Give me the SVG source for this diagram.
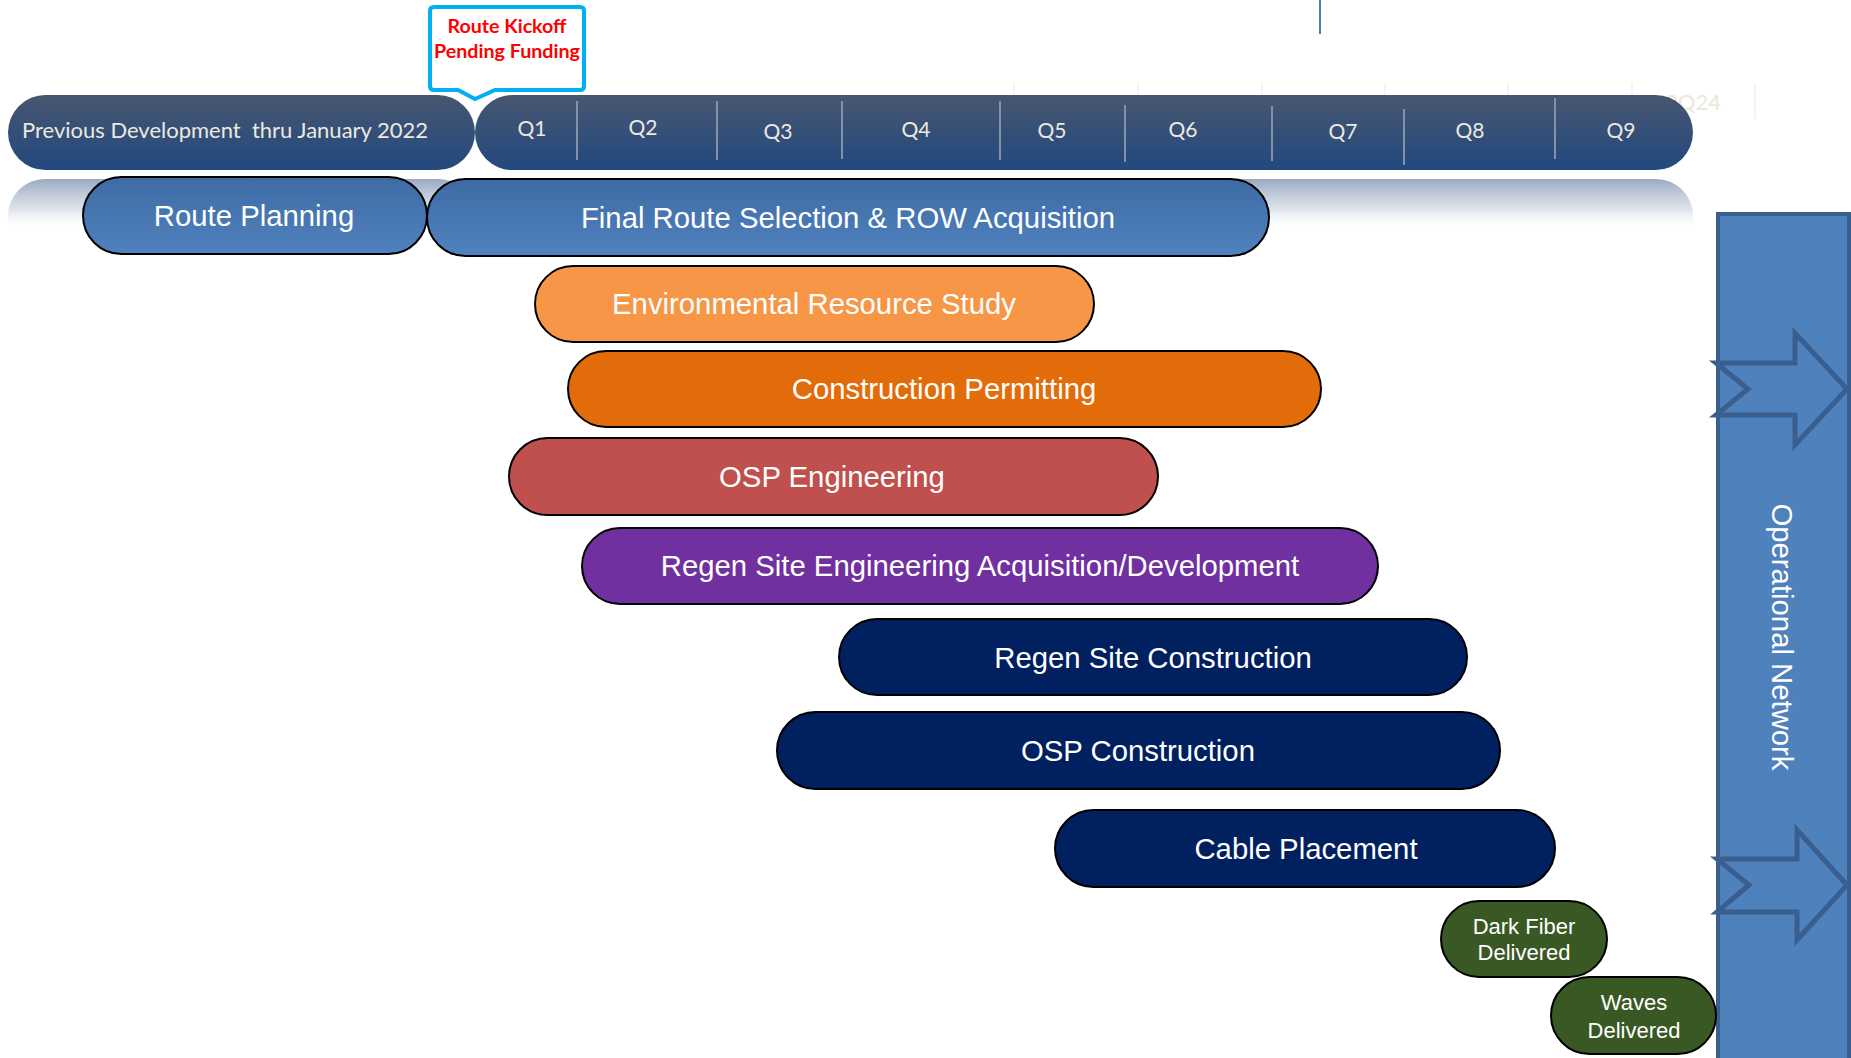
<svg xmlns="http://www.w3.org/2000/svg" width="1851" height="1058" viewBox="0 0 1851 1058">
<defs>
<linearGradient id="gTimeline" x1="0" y1="0" x2="0" y2="1">
<stop offset="0" stop-color="#475670"/>
<stop offset="1" stop-color="#22497f"/>
</linearGradient>
<linearGradient id="gReflect" x1="0" y1="0" x2="0" y2="1">
<stop offset="0" stop-color="#8c9fba" stop-opacity="0.9"/>
<stop offset="0.6" stop-color="#c9d2de" stop-opacity="0.6"/>
<stop offset="1" stop-color="#ffffff" stop-opacity="0"/>
</linearGradient>
<linearGradient id="gBlue" x1="0" y1="0" x2="0" y2="1">
<stop offset="0" stop-color="#3e6ba4"/>
<stop offset="1" stop-color="#4f82be"/>
</linearGradient>
<style>
.pill{stroke:#000;stroke-width:2}
.lbl{font-family:"Liberation Sans",Arial,sans-serif;font-size:29.3px;fill:#fff;text-anchor:middle}
.sm{font-family:"Liberation Sans",Arial,sans-serif;font-size:22px;fill:#fff;text-anchor:middle}
.tl{font-family:Lato,"Open Sans",sans-serif;font-size:21px;fill:#ece9e0;text-anchor:middle}
.div{stroke:#8492a8;stroke-width:2}
.ghost{stroke:#f5f3ed;stroke-width:2}
.arrow{fill:#4f81bd;stroke:#3a5f8e;stroke-width:5;stroke-linejoin:miter}
</style>
</defs>
<rect width="1851" height="1058" fill="#fff"/>

<g id="ghost">
<line class="ghost" x1="1014" y1="83" x2="1014" y2="100"/>
<line class="ghost" x1="1138" y1="83" x2="1138" y2="100"/>
<line class="ghost" x1="1262" y1="83" x2="1262" y2="100"/>
<line class="ghost" x1="1385" y1="83" x2="1385" y2="100"/>
<line class="ghost" x1="1508" y1="83" x2="1508" y2="100"/>
<line class="ghost" x1="1632" y1="83" x2="1632" y2="100"/>
<line class="ghost" x1="1755" y1="83" x2="1755" y2="119"/>
<text x="1693" y="110" font-family="Lato, sans-serif" font-size="22" fill="#ebe7d8" text-anchor="middle">2Q24</text>
<line x1="1320" y1="0" x2="1320" y2="34" stroke="#4a7ebb" stroke-width="2"/>
</g>

<g id="reflection">
<path d="M8,218 L8,216 A37,37 0 0 1 45,179 L438,179 A37,37 0 0 1 475,216 L475,230 L8,230 Z" fill="url(#gReflect)"/>
<path d="M475,216 A37,37 0 0 1 512,179 L1656,179 A37,37 0 0 1 1693,216 L1693,230 L475,230 Z" fill="url(#gReflect)"/>
</g>

<g id="timeline">
<rect id="prev-dev" x="8" y="95" width="467" height="75" rx="37.5" fill="url(#gTimeline)"/>
<text x="225" y="138" font-family="Lato, 'Open Sans', sans-serif" font-size="21" fill="#ece9e0" text-anchor="middle" textLength="406" lengthAdjust="spacingAndGlyphs">Previous Development&#160; thru January 2022</text>
<rect id="quarters" x="475" y="95" width="1218" height="75" rx="37.5" fill="url(#gTimeline)"/>
<line class="div" x1="577" y1="101" x2="577" y2="160"/>
<line class="div" x1="717" y1="101" x2="717" y2="160"/>
<line class="div" x1="842" y1="101" x2="842" y2="159"/>
<line class="div" x1="1000" y1="101" x2="1000" y2="160"/>
<line class="div" x1="1125" y1="105" x2="1125" y2="162"/>
<line class="div" x1="1272" y1="106" x2="1272" y2="161"/>
<line class="div" x1="1404" y1="109" x2="1404" y2="165"/>
<line class="div" x1="1555" y1="98" x2="1555" y2="159"/>
<text class="tl" x="532" y="136">Q1</text>
<text class="tl" x="643" y="135">Q2</text>
<text class="tl" x="778" y="139">Q3</text>
<text class="tl" x="916" y="137">Q4</text>
<text class="tl" x="1052" y="138">Q5</text>
<text class="tl" x="1183" y="137">Q6</text>
<text class="tl" x="1343" y="139">Q7</text>
<text class="tl" x="1470" y="138">Q8</text>
<text class="tl" x="1621" y="138">Q9</text>
</g>

<g id="callout">
<path d="M434,7 L580,7 Q584,7 584,11 L584,86 Q584,90 580,90 L495,90 L475,99 L458,90 L434,90 Q430,90 430,86 L430,11 Q430,7 434,7 Z" fill="#fff" stroke="#00b0f0" stroke-width="4" stroke-linejoin="miter"/>
<text x="507" y="33" font-family="Lato, sans-serif" font-weight="bold" font-size="19" fill="#ff0000" text-anchor="middle" textLength="119" lengthAdjust="spacingAndGlyphs">Route Kickoff</text>
<text x="507" y="58" font-family="Lato, sans-serif" font-weight="bold" font-size="19" fill="#ff0000" text-anchor="middle" textLength="146" lengthAdjust="spacingAndGlyphs">Pending Funding</text>
</g>

<g id="operational-network">
<rect x="1718" y="214" width="131" height="860" fill="#4f81bd" stroke="#3a5f8e" stroke-width="4"/>
<text x="1780" y="637" class="lbl" transform="rotate(90 1780 637)" dominant-baseline="middle">Operational Network</text>
</g>

<g id="connectors">
<path class="arrow" d="M1716,363 L1795,363 L1795,333 L1847,389 L1795,445 L1795,415 L1716,415 L1748,389 Z"/>
<path class="arrow" d="M1717,859 L1797,859 L1797,830 L1847,885 L1797,940 L1797,912 L1717,912 L1749,885 Z"/>
</g>

<g id="route-planning">
<rect class="pill" x="83" y="177" width="344" height="77" rx="38.5" fill="url(#gBlue)"/>
<text class="lbl" x="254" y="226">Route Planning</text>
</g>
<g id="final-route">
<rect class="pill" x="427" y="179" width="842" height="77" rx="38.5" fill="url(#gBlue)"/>
<text class="lbl" x="848" y="228">Final Route Selection &amp; ROW Acquisition</text>
</g>
<g id="environmental">
<rect class="pill" x="535" y="266" width="559" height="76" rx="38" fill="#f79646"/>
<text class="lbl" x="814" y="314">Environmental Resource Study</text>
</g>
<g id="construction-permitting">
<rect class="pill" x="568" y="351" width="753" height="76" rx="38" fill="#e36c0a"/>
<text class="lbl" x="944" y="399">Construction Permitting</text>
</g>
<g id="osp-engineering">
<rect class="pill" x="509" y="438" width="649" height="77" rx="38.5" fill="#c0504d"/>
<text class="lbl" x="832" y="487">OSP Engineering</text>
</g>
<g id="regen-engineering">
<rect class="pill" x="582" y="528" width="796" height="76" rx="38" fill="#7030a0"/>
<text class="lbl" x="980" y="576">Regen Site Engineering Acquisition/Development</text>
</g>
<g id="regen-construction">
<rect class="pill" x="839" y="619" width="628" height="76" rx="38" fill="#002060"/>
<text class="lbl" x="1153" y="668">Regen Site Construction</text>
</g>
<g id="osp-construction">
<rect class="pill" x="777" y="712" width="723" height="77" rx="38.5" fill="#002060"/>
<text class="lbl" x="1138" y="761">OSP Construction</text>
</g>
<g id="cable-placement">
<rect class="pill" x="1055" y="810" width="500" height="77" rx="38.5" fill="#002060"/>
<text class="lbl" x="1306" y="859">Cable Placement</text>
</g>
<g id="dark-fiber">
<rect class="pill" x="1441" y="901" width="166" height="76" rx="38" fill="#3a5824"/>
<text class="sm" x="1524" y="934">Dark Fiber</text>
<text class="sm" x="1524" y="960">Delivered</text>
</g>
<g id="waves">
<rect class="pill" x="1551" y="977" width="165" height="77" rx="38.5" fill="#3a5824"/>
<text class="sm" x="1634" y="1010">Waves</text>
<text class="sm" x="1634" y="1038">Delivered</text>
</g>
</svg>
